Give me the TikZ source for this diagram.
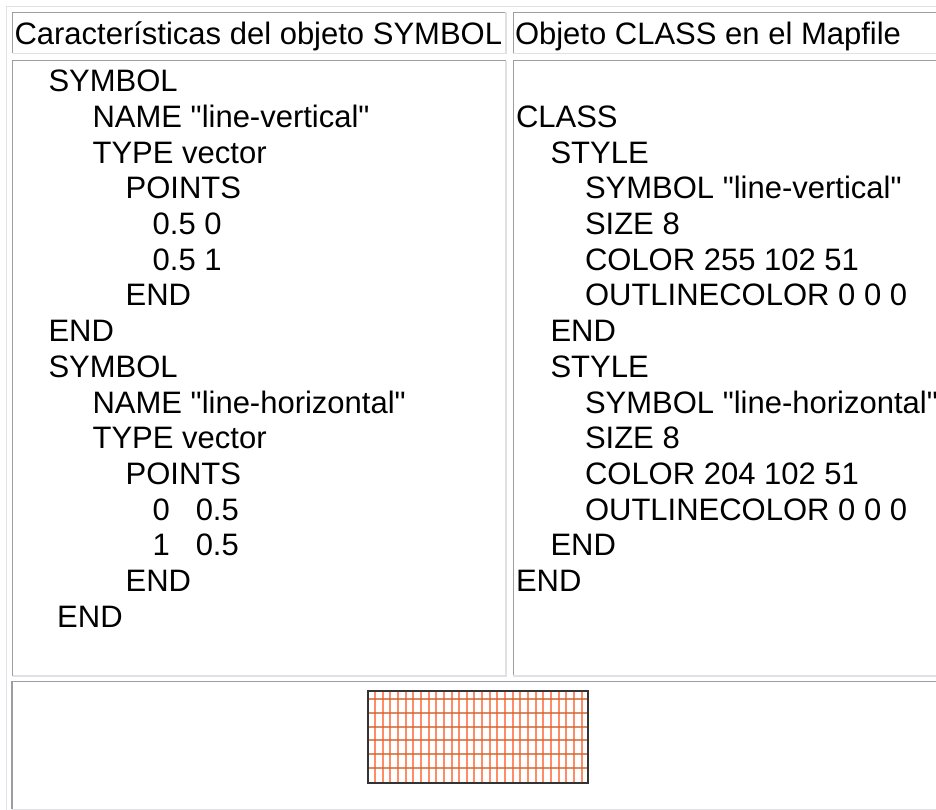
\documentclass[tikz,border=0pt]{standalone}
\usepackage{fontspec}
\newfontfamily\plainsans{Liberation Sans}
\definecolor{bdark}{RGB}{158,158,162}
\definecolor{blight}{RGB}{225,225,229}
\definecolor{vred}{RGB}{255,102,51}
\definecolor{hred}{RGB}{204,102,51}
\begin{document}
\begin{tikzpicture}[x=1pt,y=-1pt,
  txt/.style={anchor=base west,inner sep=0pt,outer sep=0pt,font=\plainsans\fontsize{31}{35.7}\selectfont},
  dk/.style={draw=bdark,line width=1.4pt},
  lt/.style={draw=blight,line width=1.4pt},
  vline/.style={draw=vred,line width=2pt,opacity=0.75},
  hline/.style={draw=hred,line width=2pt,opacity=0.75},
  symbox/.style={draw=black!80,line width=1.6pt,inner sep=0pt,minimum width=220pt,minimum height=92pt}]
\useasboundingbox (0,0) rectangle (936,810);
\fill[white] (0,0) rectangle (936,810);
% outer table border (outset: top/left light)
\draw[lt] (6.7,815) -- (6.7,6.7) -- (950,6.7);
% cell borders (inset: top/left dark, bottom/right light)
% header left
\draw[dk] (12.5,53.3) -- (12.5,12.5) -- (506,12.5);
\draw[lt] (12.5,53.3) -- (506,53.3) -- (506,12.5);
% header right
\draw[dk] (513.3,53.3) -- (513.3,12.5) -- (950,12.5);
\draw[lt] (513.3,53.3) -- (950,53.3);
% body left
\draw[dk] (12.5,676) -- (12.5,60.7) -- (506,60.7);
\draw[lt] (12.5,676) -- (506,676) -- (506,60.7);
% body right
\draw[dk] (513.3,676) -- (513.3,60.7) -- (950,60.7);
\draw[lt] (513.3,676) -- (950,676);
% bottom cell
\draw[dk] (12,809.3) -- (12,681.3) -- (950,681.3);
\draw[lt] (12,809.3) -- (950,809.3);

% headers
\node[txt] (h1) at (14.5,45) {Características del objeto SYMBOL};
\node[txt] (h2) at (515,45) {Objeto CLASS en el Mapfile};

% left column
\node[txt] (l1)  at (48.5,91.7)  {SYMBOL};
\node[txt] (l2)  at (92.6,127.4) {NAME "line-vertical"};
\node[txt] (l3)  at (92.6,163.1) {TYPE vector};
\node[txt] (l4)  at (125.6,198.8) {POINTS};
\node[txt] (l5)  at (152.7,234.5) {0.5 0};
\node[txt] (l6)  at (152.7,270.2) {0.5 1};
\node[txt] (l7)  at (125.6,305.9) {END};
\node[txt] (l8)  at (48.5,341.6) {END};
\node[txt] (l9)  at (48.5,377.3) {SYMBOL};
\node[txt] (l10) at (92.6,413.0) {NAME "line-horizontal"};
\node[txt] (l11) at (92.6,448.7) {TYPE vector};
\node[txt] (l12) at (125.6,484.4) {POINTS};
\node[txt] (l13) at (152.7,520.1) {0\ \ \ 0.5};
\node[txt] (l14) at (152.7,555.8) {1\ \ \ 0.5};
\node[txt] (l15) at (125.6,591.5) {END};
\node[txt] (l16) at (57.2,627.2) {END};

% right column
\node[txt] (r2)  at (516,127.4) {CLASS};
\node[txt] (r3)  at (550.5,163.1) {STYLE};
\node[txt] (r4)  at (585,198.8) {SYMBOL "line-vertical"};
\node[txt] (r5)  at (585,234.5) {SIZE 8};
\node[txt] (r6)  at (585,270.2) {COLOR 255 102 51};
\node[txt] (r7)  at (585,305.9) {OUTLINECOLOR 0 0 0};
\node[txt] (r8)  at (550.5,341.6) {END};
\node[txt] (r9)  at (550.5,377.3) {STYLE};
\node[txt] (r10) at (585,413.0) {SYMBOL "line-horizontal"};
\node[txt] (r11) at (585,448.7) {SIZE 8};
\node[txt] (r12) at (585,484.4) {COLOR 204 102 51};
\node[txt] (r13) at (585,520.1) {OUTLINECOLOR 0 0 0};
\node[txt] (r14) at (550.5,555.8) {END};
\node[txt] (r15) at (516,591.5) {END};

% hatched symbol sample
\foreach \k in {0,...,27}{
  \draw[vline] ({375+\k*7.65},690.7) -- ({375+\k*7.65},782.7);
}
\foreach \k in {0,...,5}{
  \draw[hline] (368,{698.7+\k*13.9}) -- (588,{698.7+\k*13.9});
}
\node[symbox] (sym) at (478,736.7) {};
\end{tikzpicture}
\end{document}
